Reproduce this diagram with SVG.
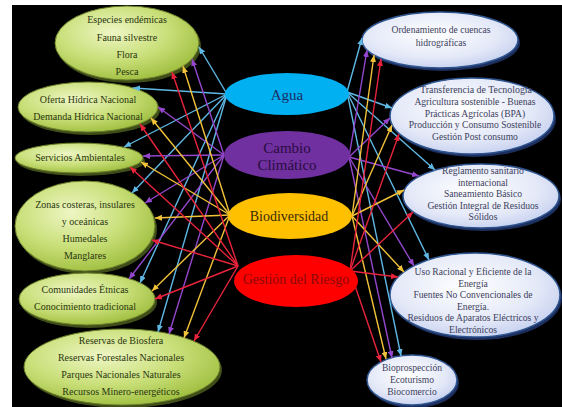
<svg xmlns="http://www.w3.org/2000/svg" width="562" height="407" viewBox="0 0 562 407">
<defs>
<radialGradient id="gGreen" cx="0.4" cy="0.35" r="0.7">
<stop offset="0" stop-color="#eef6c4"/>
<stop offset="0.55" stop-color="#c9df79"/>
<stop offset="1" stop-color="#9dbd3c"/>
</radialGradient>
<radialGradient id="gBlue" cx="0.45" cy="0.4" r="0.7">
<stop offset="0" stop-color="#ffffff"/>
<stop offset="0.6" stop-color="#e4e9f8"/>
<stop offset="1" stop-color="#bcc8ec"/>
</radialGradient>
<marker id="mB" markerUnits="userSpaceOnUse" markerWidth="7" markerHeight="6" refX="7" refY="3" orient="auto"><path d="M0,0 L7,3 L0,6 z" fill="#5fb8e4"/></marker>
<marker id="mP" markerUnits="userSpaceOnUse" markerWidth="7" markerHeight="6" refX="7" refY="3" orient="auto"><path d="M0,0 L7,3 L0,6 z" fill="#9447cc"/></marker>
<marker id="mY" markerUnits="userSpaceOnUse" markerWidth="7" markerHeight="6" refX="7" refY="3" orient="auto"><path d="M0,0 L7,3 L0,6 z" fill="#f2c23a"/></marker>
<marker id="mR" markerUnits="userSpaceOnUse" markerWidth="7" markerHeight="6" refX="7" refY="3" orient="auto"><path d="M0,0 L7,3 L0,6 z" fill="#e8243c"/></marker>
</defs>
<style>
.lt{font-family:"Liberation Serif","DejaVu Serif",serif;font-size:10px;fill:#2a3610;text-anchor:middle}
.rt{font-family:"Liberation Serif","DejaVu Serif",serif;font-size:9.6px;fill:#3d3f5c;text-anchor:middle}
.ct{font-family:"Liberation Serif","DejaVu Serif",serif;font-size:15px;text-anchor:middle}
.gsh{fill:#3f4d18}
.gel{fill:url(#gGreen);stroke:#6b7f2a;stroke-width:1}
.bsh{fill:#1c2f5e}
.bel{fill:url(#gBlue);stroke:#2f5590;stroke-width:1.5}
.cb{fill:none;stroke:#5fb8e4;stroke-width:1.4;marker-end:url(#mB)}
.cp{fill:none;stroke:#9447cc;stroke-width:1.4;marker-end:url(#mP)}
.cy{fill:none;stroke:#f2c23a;stroke-width:1.4;marker-end:url(#mY)}
.cr{fill:none;stroke:#e8243c;stroke-width:1.4;marker-end:url(#mR)}
</style>
<rect x="0" y="0" width="562" height="407" fill="#ffffff"/>
<rect x="12" y="5" width="550" height="402" fill="#000000"/>

<g id="n-especies">
<ellipse class="gsh" cx="129" cy="46" rx="72" ry="37"/>
<ellipse class="gel" cx="127" cy="43" rx="72" ry="37"/>
<text class="lt" x="127" y="23">Especies endémicas</text>
<text class="lt" x="127" y="41">Fauna silvestre</text>
<text class="lt" x="127" y="58">Flora</text>
<text class="lt" x="127" y="75">Pesca</text>
</g>
<g id="n-oferta">
<ellipse class="gsh" cx="90" cy="110" rx="70" ry="25"/>
<ellipse class="gel" cx="88" cy="107" rx="70" ry="25"/>
<text class="lt" x="88" y="103">Oferta Hídrica Nacional</text>
<text class="lt" x="88" y="120">Demanda Hídrica Nacional</text>
</g>
<g id="n-servicios">
<ellipse class="gsh" cx="81" cy="161" rx="64" ry="15"/>
<ellipse class="gel" cx="79" cy="158" rx="64" ry="15"/>
<text class="lt" x="80" y="161">Servicios  Ambientales</text>
</g>
<g id="n-zonas">
<ellipse class="gsh" cx="87" cy="229" rx="70" ry="45"/>
<ellipse class="gel" cx="85" cy="226" rx="70" ry="45"/>
<text class="lt" x="85" y="208">Zonas costeras, insulares</text>
<text class="lt" x="85" y="225">y oceánicas</text>
<text class="lt" x="85" y="242">Humedales</text>
<text class="lt" x="85" y="259">Manglares</text>
</g>
<g id="n-comunidades">
<ellipse class="gsh" cx="89" cy="302" rx="68" ry="26"/>
<ellipse class="gel" cx="87" cy="299" rx="68" ry="26"/>
<text class="lt" x="85" y="293">Comunidades Étnicas</text>
<text class="lt" x="85" y="310">Conocimiento tradicional</text>
</g>
<g id="n-reservas">
<ellipse class="gsh" cx="124" cy="370" rx="98" ry="38"/>
<ellipse class="gel" cx="122" cy="367" rx="98" ry="38"/>
<text class="lt" x="121" y="344">Reservas de Biosfera</text>
<text class="lt" x="121" y="361">Reservas Forestales Nacionales</text>
<text class="lt" x="121" y="378">Parques Nacionales Naturales</text>
<text class="lt" x="121" y="395">Recursos Minero-energéticos</text>
</g>

<g id="n-ordenamiento">
<ellipse class="bsh" cx="442" cy="43" rx="78" ry="28"/>
<ellipse class="bel" cx="440" cy="40" rx="78" ry="28"/>
<text class="rt" x="441" y="33">Ordenamiento de cuencas</text>
<text class="rt" x="441" y="46">hidrográficas</text>
</g>
<g id="n-transferencia">
<ellipse class="bsh" cx="474" cy="119" rx="82" ry="38"/>
<ellipse class="bel" cx="472" cy="116" rx="82" ry="38"/>
<text class="rt" x="476" y="93" textLength="112" lengthAdjust="spacingAndGlyphs">Transferencia de Tecnología</text>
<text class="rt" x="475" y="105">Agricultura sostenible - Buenas</text>
<text class="rt" x="475" y="117">Prácticas Agrícolas (BPA)</text>
<text class="rt" x="475" y="128">Producción y Consumo Sostenible</text>
<text class="rt" x="475" y="140">Gestión Post consumo</text>
</g>
<g id="n-reglamento">
<ellipse class="bsh" cx="483" cy="199" rx="78" ry="32"/>
<ellipse class="bel" cx="481" cy="196" rx="78" ry="32"/>
<text class="rt" x="483" y="174">Reglamento sanitario</text>
<text class="rt" x="483" y="186">internacional</text>
<text class="rt" x="483" y="197">Saneamiento Básico</text>
<text class="rt" x="483" y="209">Gestión Integral de Residuos</text>
<text class="rt" x="483" y="220">Sólidos</text>
</g>
<g id="n-uso">
<ellipse class="bsh" cx="477" cy="298" rx="85" ry="42"/>
<ellipse class="bel" cx="475" cy="295" rx="85" ry="42"/>
<text class="rt" x="473" y="275">Uso Racional y Eficiente de la</text>
<text class="rt" x="473" y="287">Energía</text>
<text class="rt" x="473" y="298">Fuentes No Convencionales de</text>
<text class="rt" x="473" y="310">Energía.</text>
<text class="rt" x="473" y="321">Residuos de Aparatos Eléctricos y</text>
<text class="rt" x="473" y="333">Electrónicos</text>
</g>
<g id="n-bioprospeccion">
<ellipse class="bsh" cx="414" cy="383" rx="45" ry="25"/>
<ellipse class="bel" cx="412" cy="380" rx="45" ry="25"/>
<text class="rt" x="412" y="371">Bioprospección</text>
<text class="rt" x="412" y="383">Ecoturismo</text>
<text class="rt" x="412" y="395">Biocomercio</text>
</g>

<g id="connectors">
<path class="cb" d="M227,94 L199,47"/>
<path class="cb" d="M227,94 L133,88"/>
<path class="cb" d="M227,94 L124,147"/>
<path class="cb" d="M227,94 L132,193"/>
<path class="cb" d="M227,94 L140,283"/>
<path class="cb" d="M227,94 L158,332"/>
<path class="cb" d="M347,92 L362,38"/>
<path class="cb" d="M347,92 L392,108"/>
<path class="cb" d="M347,92 L435,170"/>
<path class="cb" d="M347,92 L429,260"/>
<path class="cb" d="M347,92 L401,356"/>

<path class="cp" d="M224,155 L192,59"/>
<path class="cp" d="M224,155 L158,107"/>
<path class="cp" d="M224,155 L143,156"/>
<path class="cp" d="M224,155 L145,203"/>
<path class="cp" d="M224,155 L129,279"/>
<path class="cp" d="M224,155 L169,334"/>
<path class="cp" d="M349,157 L367,50"/>
<path class="cp" d="M349,157 L390,118"/>
<path class="cp" d="M349,157 L419,176"/>
<path class="cp" d="M349,157 L414,266"/>
<path class="cp" d="M349,157 L392,358"/>

<path class="cy" d="M230,215 L183,66"/>
<path class="cy" d="M230,215 L151,118"/>
<path class="cy" d="M230,215 L141,162"/>
<path class="cy" d="M230,215 L155,218"/>
<path class="cy" d="M230,215 L152,291"/>
<path class="cy" d="M230,215 L184,338"/>
<path class="cy" d="M352,216 L374,55"/>
<path class="cy" d="M352,216 L392,125"/>
<path class="cy" d="M352,216 L404,190"/>
<path class="cy" d="M352,216 L404,272"/>
<path class="cy" d="M352,216 L386,359"/>

<path class="cr" d="M238,266 L172,72"/>
<path class="cr" d="M238,266 L140,124"/>
<path class="cr" d="M238,266 L130,167"/>
<path class="cr" d="M238,266 L152,240"/>
<path class="cr" d="M238,266 L155,299"/>
<path class="cr" d="M238,266 L194,341"/>
<path class="cr" d="M350,271 L381,59"/>
<path class="cr" d="M350,271 L399,134"/>
<path class="cr" d="M350,271 L413,212"/>
<path class="cr" d="M350,271 L398,277"/>
<path class="cr" d="M350,271 L381,362"/>
</g>

<g id="n-agua">
<ellipse cx="287" cy="94" rx="62" ry="21" fill="#00b0f0"/>
<text class="ct" x="287" y="100" fill="#1b2f66">Agua</text>
</g>
<g id="n-cambio">
<ellipse cx="287" cy="155" rx="63" ry="24" fill="#7030a0"/>
<text class="ct" x="287" y="153" fill="#2a0c40">Cambio</text>
<text class="ct" x="287" y="170" fill="#2a0c40">Climático</text>
</g>
<g id="n-biodiversidad">
<ellipse cx="290" cy="216" rx="62" ry="23" fill="#ffc000"/>
<text class="ct" x="289" y="221" fill="#3a2a06" style="font-size:14px">Biodiversidad</text>
</g>
<g id="n-gestion">
<ellipse cx="296" cy="281" rx="62" ry="26" fill="#ff0000"/>
<text class="ct" x="296" y="284" fill="#8a0a0a" style="font-size:14px">Gestión del Riesgo</text>
</g>
</svg>
